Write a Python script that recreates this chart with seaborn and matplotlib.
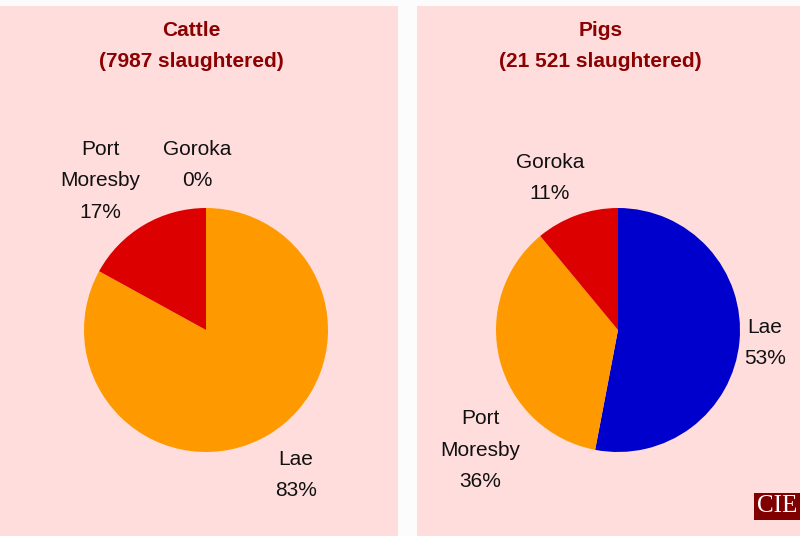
import matplotlib
matplotlib.use("Agg")
import matplotlib.pyplot as plt
import seaborn as sns

# data
places = ["Lae", "Port\nMoresby", "Goroka"]
cattle_pct = [83, 17, 0]
pigs_pct = [53, 36, 11]
titles = ["Cattle\n(7987 slaughtered)", "Pigs\n(21 521 slaughtered)"]

sns.set_style("white")
plt.rcParams['font.family'] = ['Liberation Sans Narrow', 'Liberation Sans', 'DejaVu Sans']

pal = sns.color_palette(["#FF9900", "#DD0000", "#0000CC"])
cattle_colors = [pal[0], pal[1], pal[1]]
pigs_colors = [pal[2], pal[0], pal[1]]

W, H = 800, 536
fig = plt.figure(figsize=(8, 5.36), dpi=100)
fig.patch.set_facecolor("#FCFCFC")


def panel(x0, x1, cx, pct, colors, title, label_pos):
    ax = fig.add_axes([x0 / W, 0, (x1 - x0) / W, (H - 6) / H])
    ax.set_facecolor("#FFDDDD")
    ax.pie(pct, colors=colors, startangle=90, counterclock=False,
           center=(cx, H - 330), radius=122, frame=True,
           wedgeprops=dict(linewidth=0))
    ax.set_xlim(x0, x1)
    ax.set_ylim(0, H - 6)
    ax.set_aspect("auto")
    ax.set_xticks([])
    ax.set_yticks([])
    for s in ax.spines.values():
        s.set_visible(False)
    ax.text((x0 + x1) / 2 - 8, H - 46, title, ha="center", va="center",
            fontsize=15, fontweight="bold", color="#8B0000", linespacing=1.75)
    for name, p, (lx, ly) in zip(places, pct, label_pos):
        ax.text(lx, H - ly, f"{name}\n{p}%", ha="center", va="center",
                fontsize=15, color="#111111", linespacing=1.85)
    return ax


panel(0, 398, 206, cattle_pct, cattle_colors, titles[0],
      [(296, 475), (100, 181), (197, 165)])
panel(417, 800, 618, pigs_pct, pigs_colors, titles[1],
      [(765, 343), (480, 450), (550, 178)])

fig.text(777 / W, 1 - 506 / H, "CIE", ha="center", va="center", fontsize=18,
         family="Liberation Serif", color="white",
         bbox=dict(boxstyle="square,pad=0.1", fc="#800000", ec="none"))

fig.savefig("out.png", dpi=100, facecolor=fig.get_facecolor())
